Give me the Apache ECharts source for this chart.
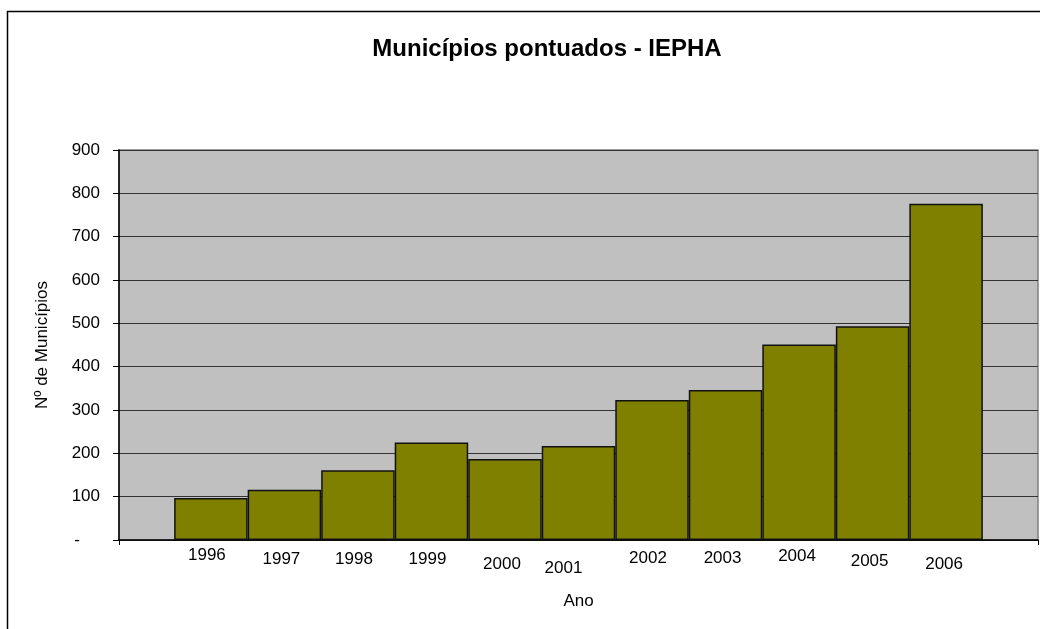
<!DOCTYPE html>
<html>
<head>
<meta charset="utf-8">
<title>Municípios pontuados - IEPHA</title>
<script src="https://cdn.jsdelivr.net/npm/echarts@6/dist/echarts.min.js"></script>
<style>
  html, body { margin: 0; padding: 0; background: #fff; }
  #chart { width: 1040px; height: 629px; }
</style>
</head>
<body>
<div id="chart"></div>
<script>
// Data
const years = [1996, 1997, 1998, 1999, 2000, 2001, 2002, 2003, 2004, 2005, 2006];
const municipios = [97, 116, 161, 225, 187, 217, 323, 346, 451, 493, 776];

// Excel left the year labels a bit jumbled; nudge each one [dx, dy]
const labelNudge = [[-4, 0], [-3, 4], [-4, 4], [-4, 4], [-3, 9], [-15, 13],
  [-4, 3], [-3, 3], [-2, 1], [-3, 6], [-2, 9]];

const FONT = '"Liberation Sans", Arial, sans-serif';

const rich = {};
labelNudge.forEach(([dx, dy], i) => {
  rich['y' + i] = {
    fontFamily: FONT, fontSize: 17, color: '#000',
    padding: [dy, dx < 0 ? -dx * 2 : 0, 0, dx > 0 ? dx * 2 : 0]
  };
});

const chart = echarts.init(document.getElementById('chart'));

chart.setOption({
  animation: false,
  title: {
    text: 'Municípios pontuados - IEPHA',
    left: 542,
    textAlign: 'center',
    top: 32,
    textStyle: { fontFamily: FONT, fontSize: 24, fontWeight: 'bold', color: '#000' }
  },
  graphic: [{
    type: 'rect',
    shape: { x: 7.5, y: 11.5, width: 1200, height: 800 },
    style: { fill: 'none', stroke: '#000', lineWidth: 1.5 },
    silent: true
  }],
  grid: {
    left: 119, top: 150, right: 2, bottom: 89,
    show: true,
    backgroundColor: '#c0c0c0',
    borderColor: '#808080',
    borderWidth: 1.5
  },
  xAxis: {
    type: 'value',
    min: 1994.75,
    max: 2007.25,
    name: 'Ano',
    nameLocation: 'middle',
    nameGap: 53,
    nameTextStyle: { fontFamily: FONT, fontSize: 17, color: '#000' },
    axisLine: { show: true, lineStyle: { color: '#000', width: 1.5 } },
    axisTick: {
      show: true, length: 5, inside: false,
      customValues: [1994.75, 2007.25],
      lineStyle: { color: '#000' }
    },
    axisLabel: {
      customValues: years,
      margin: 7,
      formatter: v => {
        const i = years.indexOf(Math.round(v));
        return i < 0 ? '' : `{y${i}|${years[i]}}`;
      },
      rich
    },
    splitLine: { show: false }
  },
  yAxis: {
    type: 'value',
    min: 0,
    max: 900,
    interval: 100,
    name: 'Nº de Municípios',
    nameLocation: 'middle',
    nameGap: 68,
    nameTextStyle: { fontFamily: FONT, fontSize: 17, color: '#000' },
    axisLine: { show: true, lineStyle: { color: '#000', width: 1.5 } },
    axisTick: { show: true, length: 6, inside: false, lineStyle: { color: '#000' } },
    axisLabel: {
      margin: 19,
      fontFamily: FONT,
      fontSize: 17,
      color: '#000',
      formatter: v => v === 0 ? '{dash|-}' : String(v),
      rich: { dash: { fontFamily: FONT, fontSize: 17, color: '#000', padding: [0, 20, 0, 0] } }
    },
    splitLine: { show: true, lineStyle: { color: '#333', width: 1.2 } }
  },
  series: [{
    type: 'bar',
    data: years.map((y, i) => [y, municipios[i]]),
    barWidth: 73.5,
    itemStyle: { color: '#808000', borderColor: '#111', borderWidth: 1.5 }
  }]
});
</script>
</body>
</html>
